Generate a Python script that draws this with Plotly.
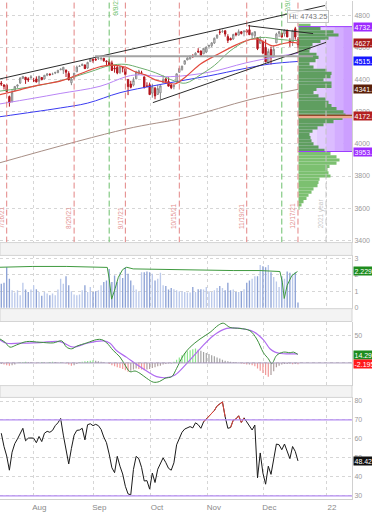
import plotly.graph_objects as go

# ---------------- data ----------------
# trading-day index: 0 = 2021-07-16 (options expiry), 108 = 2021-12-17
idx = list(range(-2, 109))

opens = [4380,4369,4367,4296,4266,4332,4361,4381,4410,4417,
         4407,4411,4395,4406,4392,4415,4406,4429,4437,4436,
         4442,4446,4464,4461,4462,4440,4382,4410,4450,4484,
         4490,4493,4474,4514,4529,4528,4534,4532,4535,4518,
         4513,4506,4474,4479,4447,4477,4470,4403,4374,4367,
         4406,4438,4443,4419,4362,4370,4317,4348,4309,4319,
         4383,4406,4390,4368,4358,4386,4447,4463,4498,4524,
         4532,4547,4553,4579,4580,4562,4573,4610,4613,4630,
         4663,4699,4701,4707,4670,4659,4655,4689,4679,4701,
         4700,4708,4713,4679,4675,4664,4628,4640,4602,4504,
         4589,4548,4631,4690,4691,4687,4711,4643,4637,4719,
         4652]
highs = [4393,4370,4375,4302,4337,4360,4370,4415,4423,4418,
         4416,4430,4413,4422,4424,4417,4430,4441,4439,4445,
         4449,4461,4468,4480,4462,4454,4418,4444,4489,4492,
         4502,4496,4513,4537,4532,4537,4545,4541,4535,4521,
         4529,4520,4492,4486,4485,4486,4471,4403,4394,4416,
         4457,4463,4457,4419,4385,4383,4376,4356,4369,4365,
         4429,4412,4416,4375,4372,4439,4476,4488,4520,4540,
         4551,4560,4572,4598,4584,4597,4608,4620,4635,4664,
         4683,4718,4714,4708,4685,4664,4688,4697,4715,4701,
         4708,4717,4743,4699,4702,4664,4673,4646,4652,4595,
         4608,4612,4694,4706,4695,4713,4711,4660,4712,4731,
         4667]
lows = [4362,4340,4323,4233,4259,4329,4350,4374,4405,4375,
        4387,4410,4386,4384,4373,4397,4404,4423,4425,4430,
        4436,4441,4460,4437,4418,4397,4367,4406,4450,4482,
        4486,4468,4469,4513,4507,4522,4524,4521,4513,4493,
        4492,4457,4445,4435,4437,4447,4427,4305,4347,4359,
        4406,4430,4436,4346,4355,4306,4289,4279,4309,4278,
        4383,4386,4360,4342,4341,4386,4447,4459,4496,4524,
        4526,4538,4545,4569,4551,4562,4567,4595,4604,4624,
        4655,4681,4694,4670,4630,4648,4650,4672,4679,4684,
        4672,4694,4680,4653,4659,4586,4626,4560,4510,4504,
        4496,4540,4631,4667,4665,4670,4667,4606,4612,4651,
        4598]
closes = [4374,4360,4327,4258,4323,4359,4368,4412,4422,4401,
          4400,4419,4395,4387,4423,4402,4429,4437,4433,4436,
          4447,4460,4468,4479,4448,4400,4405,4442,4480,4486,
          4497,4470,4509,4529,4523,4524,4537,4535,4520,4514,
          4493,4459,4469,4443,4481,4474,4433,4358,4354,4396,
          4449,4455,4443,4353,4360,4308,4357,4300,4346,4363,
          4399,4391,4361,4351,4364,4438,4471,4486,4520,4537,
          4549,4545,4567,4575,4551,4597,4605,4614,4631,4660,
          4680,4697,4702,4686,4646,4649,4683,4682,4701,4689,
          4704,4698,4682,4690,4701,4595,4655,4567,4513,4577,
          4538,4591,4686,4701,4667,4712,4668,4634,4709,4668,
          4620]

volume = [1.46,1.52,2.46,1.76,1.06,0.92,1.06,0.76,1.52,1.10,
          0.96,1.10,1.36,1.12,0.96,0.72,0.96,0.86,0.76,0.86,
          0.76,1.10,1.76,1.46,1.92,1.36,1.00,0.80,0.76,0.80,
          1.06,1.36,0.96,1.26,0.96,1.00,1.06,1.36,1.56,1.66,
          2.36,1.56,1.96,1.56,2.16,1.80,2.46,2.06,1.66,1.36,
          1.10,0.96,2.16,2.16,2.20,2.16,2.06,1.66,1.76,2.12,
          1.36,1.32,1.10,1.20,1.12,1.06,1.00,1.00,0.96,0.92,
          0.92,1.26,0.96,1.12,1.12,1.10,1.26,1.00,0.96,1.06,
          1.20,1.32,1.20,1.06,1.52,1.06,1.10,0.96,0.96,1.00,
          1.12,1.52,1.66,1.76,1.92,1.92,2.60,2.52,2.46,2.60,
          2.16,1.86,1.60,1.26,1.92,1.76,2.20,2.12,2.06,2.16,
          0.32]

vol_line_x = [-2.5, 9.7, 22.3, 34.6, 37.3, 38.0, 38.9, 40.2, 41.4, 43.0, 44.5, 46.9,
              59.3, 71.7, 84.0, 93.9, 101.3, 102.2, 102.9, 104.0, 105.7, 107.8]
vol_line_y = [2.46, 2.51, 2.51, 2.49, 2.45, 1.76, 0.52, 1.16, 1.85, 2.32, 2.46, 2.36,
              2.32, 2.30, 2.26, 2.26, 2.20, 1.55, 0.56, 1.36, 1.95, 2.20]

# moving averages (read at sample points)
ema_red_x = [-2.5, 4.9, 12.3, 19.8, 24.7, 30.9, 34.6, 38.3, 43.9, 47.6, 51.4, 55.1, 58.8,
             62.4, 66.4, 72, 79, 85.3, 89, 92.5, 95, 98.5, 102, 105.6, 108]
ema_red_y = [4308, 4338, 4369, 4392, 4420, 4462, 4482, 4492, 4480, 4451, 4431, 4400, 4385,
             4375, 4420, 4500, 4566, 4620, 4646, 4655, 4640, 4612, 4625, 4634, 4630]
sma_green_x = [-2.5, 10, 20, 30.9, 38.3, 43.9, 49.4, 55.1, 62.4, 66.4, 71.7, 77, 82.8,
               88.4, 92, 96, 100, 104, 108]
sma_green_y = [4330, 4360, 4395, 4450, 4490, 4497, 4475, 4445, 4392, 4380, 4430, 4490, 4580,
               4640, 4660, 4665, 4655, 4648, 4645]
sma_purple_x = [-2.5, 9.8, 19.8, 34.6, 43.9, 48, 60.6, 75.4, 88.4, 100, 108]
sma_purple_y = [4250, 4285, 4315, 4360, 4418, 4431, 4420, 4449, 4505, 4545, 4566]
sma_blue_x = [-2.5, 10, 20, 30, 42, 55, 66.5, 75, 88, 98, 108]
sma_blue_y = [4170, 4200, 4225, 4255, 4320, 4365, 4400, 4425, 4470, 4500, 4515]
sma_brown_x = [-2.5, 43.9, 66.5, 90.2, 108]
sma_brown_y = [3883, 4092, 4166, 4277, 4341]

# trendlines: (idx0, price0, idx1, price1)
trend_upper = (-2.5, 4406, 118.0, 4864)
trend_lower = (54.2, 4258, 118.4, 4634)
trend_desc = (89.5, 4738, 113.6, 4689)
resistance = (32.7, 4548, 113.6, 4548)

# volume profile
profile_levels = [3600,3620,3640,3660,3680,3700,3720,3740,3760,3780,
                  3800,3820,3840,3860,3880,3900,3920,3940,3960,3980,
                  4000,4020,4040,4060,4080,4100,4120,4140,4160,4180,
                  4200,4220,4240,4260,4280,4300,4320,4340,4360,4380,
                  4400,4420,4440,4460,4480,4500,4520,4540,4560,4580,
                  4600,4620,4640,4660,4680,4700,4720,4740]
profile_volume = [1,3,5,8,10,13,15,19,20,21,
                  32,30,29,31,38,41,38,32,26,20,
                  15,13,12,11,14,19,25,35,44,47,
                  45,38,33,30,27,20,15,18,33,33,
                  25,32,33,28,15,11,17,20,18,11,
                  12,14,22,30,40,35,22,12]
va_high, va_low, poc = 4732.4, 3953.0, 4172.0

macd_x = [-2.48,-0.63,1.22,3.7,7.4,12.3,17.3,20.4,22.2,24.1,26,29.7,33.4,35.2,37.1,39.5,42,
          43.9,45.7,47.6,49.4,51.9,54.4,56.6,58.7,61.2,63,65.5,68,71.7,75.4,78.5,80.3,82.8,
          86.5,90.2,92.7,95.2,97,98.3,100.1,102.6,105.1,106.3,107.9]
macd_y = [43.4,37.5,28.6,32.7,38.7,37.5,36.3,39.9,28.6,25.6,30.4,36.3,42.3,42.3,36.3,22.6,10.7,
          -4,-15.8,-14.6,-18.8,-27.7,-34.8,-33.7,-27.7,-24.7,-9.8,13.7,28.6,43.4,55.4,68.4,72,64.3,
          62.5,58.3,43.4,18.5,7.7,-1.2,13.7,19.6,18.5,19.6,15.5]
signal_x = [-2.48,0,4.9,12.3,19.8,24.7,29.7,35.8,38.3,40.8,44.5,48.2,51.9,55.6,59.3,62.4,66.7,
            71.7,76.6,81.6,86.5,91.5,95.2,97.6,99.5,102.6,107.9]
signal_y = [41.7,35.7,35.7,36.9,38.7,28.6,35.7,39.9,35.7,22,10.1,-3,-14.6,-24.7,-26.5,-21.7,-1.2,
            25.6,49.4,62.5,62.5,56.6,41.7,25.6,19.6,16.7,16.5]
macd_hist = [-2,-3,-4,-5,-4,-3,
             0.5,1,1.5,2,1.5,1,0.5,-0.5,0.5,1.5,1,
             1,1.5,2,1.5,1,1,0.5,-1,
             -3,-5,-4,-2,
             1,2,3,3.5,4,5,4,3,
             2,1,0,
             -2,-4,-6,-8,-9,-11,-13,-16,-14,
             -12,-10,-11,-12,-13,-12,-11,-9,-8,
             -6,-5,-3,-2,-1,
             -1,2,
             6,10,14,18,21,23,25,26,
             24,22,20,18,16,14,12,10,8,6,4,3,
             2,1.5,1,0.5,
             -1,-2,-3,-3,-4,
             -6,-10,-14,-18,-22,-25,-22,-15,-8,
             -5,-3,-2,-2,
             -1.5,-2.5,-2,-2.19]

rsi = [63,56,51,43.5,53,57.5,60,63,65.6,59,
       60.4,60.5,60.4,58,61.3,58.6,63,64,63.5,64.5,
       67,68.5,70.8,62,55,46.8,55,62,64.5,64.7,
       65.6,59.5,67.5,68,67,67.7,67,65,61,58,
       52,44.8,42.2,50.8,45.6,41.5,35,31,30.5,43.9,
       50.8,49.5,45,37.8,38,33.5,42,37,44,47,
       50,47.5,44.5,43.5,47.4,56.9,60,63.5,65.2,65.9,
       66.5,65.8,68.5,67.5,65.6,69,70.5,71.7,73.5,75,
       77.4,78.5,79.5,71.7,65.6,66,69.9,70.5,72.2,68.7,
       71.1,69,66.5,64.7,67.3,39.5,52.6,42,36.1,45.6,
       41.3,49.1,57.3,56.9,54.3,57.3,53.4,49.6,56,53.4,
       48.4]
rsi_red_ranges = [(73, 81), (83, 88)]

opex_idx = [0, 25, 44, 64, 89, 108]
opex_lbl = ['7/16/21', '8/20/21', '9/17/21', '10/15/21', '11/19/21', '12/17/21']
roll_idx = [38, 102]
roll_lbl = ['9/9/21', '12/9/21']
year_idx = 118.4
month_pos = [9.9, 32.1, 53.5, 74.6, 95.2, 118.4]
month_lbl = ['Aug', 'Sep', 'Oct', 'Nov', 'Dec', '22']

# ---------------- figure ----------------
FONT = 'Liberation Sans'
XR = [-2.48, 128.03]
dom_main = [0.5149, 1.0]
dom_vol = [0.3822, 0.4891]
dom_macd = [0.2277, 0.3564]
dom_rsi = [0.0, 0.2040]
GRID = '#d6d6d6'
TICKF = dict(size=7, color='#9a9a9a', family=FONT)

fig = go.Figure()

# volume profile (horizontal bars starting at the last session)
prof_colors = ['#5f9e60' if va_low <= p <= va_high else '#7cc070' for p in profile_levels]
prof_len = [v / 2.697 for v in profile_volume]
fig.add_trace(go.Bar(orientation='h', y=profile_levels, x=prof_len, base=108.2, width=20,
                     marker=dict(color=prof_colors, line=dict(width=0)),
                     xaxis='x', yaxis='y', hoverinfo='skip', showlegend=False))

# moving averages
for xs, ys, col, w in [(sma_brown_x, sma_brown_y, '#a88f86', 1),
                       (sma_blue_x, sma_blue_y, '#3a3af0', 1),
                       (sma_purple_x, sma_purple_y, '#b985f5', 1),
                       (sma_green_x, sma_green_y, '#6eae6e', 1),
                       (ema_red_x, ema_red_y, '#e34a3e', 1.2)]:
    fig.add_trace(go.Scatter(x=xs, y=ys, mode='lines', line=dict(color=col, width=w, shape='spline'),
                             xaxis='x', yaxis='y', hoverinfo='skip', showlegend=False))

fig.add_trace(go.Candlestick(x=idx, open=opens, high=highs, low=lows, close=closes,
                             increasing=dict(line=dict(color='#8a8a8a', width=1), fillcolor='#f4f4f4'),
                             decreasing=dict(line=dict(color='#b3141c', width=1), fillcolor='#b3141c'),
                             whiskerwidth=0, xaxis='x', yaxis='y', showlegend=False, hoverinfo='skip'))

# volume panel
vcol = ['#bccaeb' if c >= o else '#8ea3d6' for o, c in zip(opens, closes)]
fig.add_trace(go.Bar(x=idx, y=volume, width=0.5, marker=dict(color=vcol, line=dict(width=0)),
                     xaxis='x2', yaxis='y2', hoverinfo='skip', showlegend=False))
fig.add_trace(go.Scatter(x=vol_line_x, y=vol_line_y, mode='lines', line=dict(color='#3f9a3f', width=1),
                         xaxis='x2', yaxis='y2', hoverinfo='skip', showlegend=False))

# MACD panel
hcol = []
for k, h in enumerate(macd_hist):
    prev = macd_hist[k - 1] if k > 0 else h
    if h >= 0:
        hcol.append('#8ce68c' if h >= prev else '#a3a3a3')
    else:
        hcol.append('#f29a9a' if h < prev else '#b0a0a0')
fig.add_trace(go.Bar(x=idx, y=macd_hist, width=0.45, marker=dict(color=hcol, line=dict(width=0)),
                     xaxis='x3', yaxis='y3', hoverinfo='skip', showlegend=False))
fig.add_trace(go.Scatter(x=signal_x, y=signal_y, mode='lines', line=dict(color='#b06cf0', width=1.2, shape='spline'),
                         xaxis='x3', yaxis='y3', hoverinfo='skip', showlegend=False))
fig.add_trace(go.Scatter(x=macd_x, y=macd_y, mode='lines', line=dict(color='#3d8f3d', width=1, shape='spline'),
                         xaxis='x3', yaxis='y3', hoverinfo='skip', showlegend=False))

# RSI panel
fig.add_trace(go.Scatter(x=idx, y=rsi, mode='lines', line=dict(color='#1a1a1a', width=1),
                         xaxis='x4', yaxis='y4', hoverinfo='skip', showlegend=False))
rsi_red = [v if any(a <= i <= b for a, b in rsi_red_ranges) else None for i, v in zip(idx, rsi)]
fig.add_trace(go.Scatter(x=idx, y=rsi_red, mode='lines', line=dict(color='#e0443a', width=1),
                         xaxis='x4', yaxis='y4', hoverinfo='skip', showlegend=False, connectgaps=False))

shapes = []
# value-area background (gradient made of strips)
strip_cols = ['#f1e6ff', '#ead9ff', '#e2cbff', '#dbbcff', '#d3adff', '#cc9fff']
n = len(strip_cols)
for k, c in enumerate(strip_cols):
    x0 = 108.2 + (XR[1] - 108.2) * k / n
    x1 = 108.2 + (XR[1] - 108.2) * (k + 1) / n
    shapes.append(dict(type='rect', xref='x', yref='y', x0=x0, x1=x1, y0=va_low, y1=va_high,
                       fillcolor=c, line=dict(width=0), layer='between'))
for yv in (va_high, va_low):
    shapes.append(dict(type='line', xref='x', yref='y', x0=108.2, x1=XR[1], y0=yv, y1=yv,
                       line=dict(color='#9d3cff', width=1)))
shapes.append(dict(type='line', xref='x', yref='y', x0=108.2, x1=XR[1], y0=poc, y1=poc,
                   line=dict(color='#eda88c', width=3.5)))
shapes.append(dict(type='line', xref='x', yref='y', x0=108.2, x1=XR[1], y0=poc + 7, y1=poc + 7,
                   line=dict(color='#7a2e12', width=1)))

# vertical event lines on the price panel
for xi in opex_idx:
    shapes.append(dict(type='line', xref='x', yref='y domain', x0=xi, x1=xi, y0=0, y1=1,
                       line=dict(color='#e38585', width=1, dash='6px,3px')))
for xi in roll_idx:
    shapes.append(dict(type='line', xref='x', yref='y domain', x0=xi, x1=xi, y0=0, y1=1,
                       line=dict(color='#6cbf6c', width=1, dash='6px,3px')))
shapes.append(dict(type='line', xref='x', yref='y domain', x0=year_idx, x1=year_idx, y0=0, y1=1,
                   line=dict(color='#c4c4c4', width=1, dash='6px,3px')))

# trendlines
for (a, b, c, d), col, w in [(trend_upper, '#2b2b2b', 1), (trend_lower, '#2b2b2b', 1),
                             (trend_desc, '#2b2b2b', 1), (resistance, '#a3a3a3', 2)]:
    shapes.append(dict(type='line', xref='x', yref='y', x0=a, y0=b, x1=c, y1=d,
                       line=dict(color=col, width=w)))

# panel separators
for top, bot in [(dom_main[0], dom_vol[1]), (dom_vol[0], dom_macd[1]), (dom_macd[0], dom_rsi[1])]:
    shapes.append(dict(type='rect', xref='paper', yref='paper', x0=0, x1=1, y0=bot, y1=top,
                       fillcolor='#f3f3f3', line=dict(color='#d4d4d4', width=1), layer='above'))

# RSI guide lines & MACD zero line
for yv in (70, 30):
    shapes.append(dict(type='line', xref='x4 domain', yref='y4', x0=0, x1=1, y0=yv, y1=yv,
                       line=dict(color='#b48cf2', width=1.2)))
shapes.append(dict(type='line', xref='x3 domain', yref='y3', x0=0, x1=1, y0=0, y1=0,
                   line=dict(color='#a99bbd', width=1)))

annotations = []
for xi, t in zip(opex_idx, opex_lbl):
    annotations.append(dict(x=xi, y=3458, xref='x', yref='y', text=t, textangle=-90, showarrow=False,
                            xanchor='right', yanchor='bottom', xshift=0.5,
                            font=dict(size=6.5, color='#e39090', family=FONT)))
for xi, t in zip(roll_idx, roll_lbl):
    annotations.append(dict(x=xi, y=4790, xref='x', yref='y', text=t, textangle=-90, showarrow=False,
                            xanchor='left', yanchor='bottom', xshift=0.5,
                            font=dict(size=6.5, color='#6cbf6c', family=FONT)))
annotations.append(dict(x=year_idx, y=3458, xref='x', yref='y', text='2021 year', textangle=-90,
                        showarrow=False, xanchor='right', yanchor='bottom', xshift=0.5,
                        font=dict(size=6.5, color='#c8c8c8', family=FONT)))
annotations.append(dict(x=111.7, y=4797, xref='x', yref='y', text='Hi: 4743.25', showarrow=False,
                        font=dict(size=7.5, color='#777777', family=FONT), bgcolor='rgba(255,255,255,0.85)',
                        bordercolor='#c4c4c4', borderwidth=1, borderpad=1))


def side_label(yref, val, text, color):
    return dict(xref='paper', x=1, xanchor='left', xshift=1, yref=yref, y=val, yanchor='middle',
                text=text, showarrow=False, bgcolor=color, borderpad=0.5,
                font=dict(size=7, color='white', family=FONT))


for val, txt, col in [(4732.4, '4732.49', '#9d2bff'), (4627.2, '4627.25', '#a81c1c'),
                      (4515.5, '4515.51', '#1616ff'), (4341.0, '4341.04', '#5b1f08'),
                      (4172.0, '4172.00', '#b32020'), (3953.0, '3953.00', '#9d2bff')]:
    annotations.append(side_label('y', val, txt, col))
annotations.append(side_label('y2', 2.23, '2.2295', '#1e8c1e'))
annotations.append(side_label('y3', 14.29, '14.2953', '#1e8c1e'))
annotations.append(side_label('y3', -2.19, '-2.1953', '#ff1a1a'))
annotations.append(side_label('y4', 48.42, '48.4213', '#111111'))

xcommon = dict(range=XR, showgrid=True, gridcolor=GRID, griddash='dot', gridwidth=1,
               tickvals=month_pos, ticktext=month_lbl, zeroline=False, ticks='')

fig.update_layout(
    width=372, height=512, margin=dict(l=0, r=20, t=0, b=7),
    paper_bgcolor='white', plot_bgcolor='white', showlegend=False, barmode='overlay',
    font=dict(family=FONT),
    xaxis=dict(domain=[0, 1], anchor='y', showticklabels=False, rangeslider=dict(visible=False),
               showline=False, **xcommon),
    xaxis2=dict(domain=[0, 1], anchor='y2', matches='x', showticklabels=False, showline=False, **xcommon),
    xaxis3=dict(domain=[0, 1], anchor='y3', matches='x', showticklabels=False, showline=False, **xcommon),
    xaxis4=dict(domain=[0, 1], anchor='y4', matches='x', showticklabels=True,
                tickfont=dict(size=8, color='#8a8a8a', family=FONT),
                ticklabelshift=6, showline=True, linecolor='#d0d0d0', **xcommon),
    yaxis=dict(domain=dom_main, anchor='x', side='right', range=[3384.6, 4892.3],
               tickvals=[3400, 3600, 3800, 4000, 4200, 4400, 4600, 4800],
               showgrid=True, gridcolor=GRID, griddash='dot', zeroline=False, tickfont=TICKF,
               showline=True, linecolor='#d0d0d0', ticks=''),
    yaxis2=dict(domain=dom_vol, anchor='x2', side='right', range=[-0.06, 3.18], tickvals=[0, 1, 2, 3],
                showgrid=True, gridcolor=GRID, griddash='dot', zeroline=False, tickfont=TICKF,
                showline=True, linecolor='#d0d0d0', ticks=''),
    yaxis3=dict(domain=dom_macd, anchor='x3', side='right', range=[-41, 75], tickvals=[0, 50],
                showgrid=True, gridcolor=GRID, griddash='dot', zeroline=False, tickfont=TICKF,
                showline=True, linecolor='#d0d0d0', ticks=''),
    yaxis4=dict(domain=dom_rsi, anchor='x4', side='right', range=[28.3, 81.9],
                tickvals=[30, 40, 50, 60, 70, 80], showgrid=True, gridcolor=GRID, griddash='dot',
                zeroline=False, tickfont=TICKF, showline=True, linecolor='#d0d0d0', ticks=''),
    shapes=shapes, annotations=annotations,
)

fig.write_html('out.html', config={'displayModeBar': False, 'staticPlot': True},
               post_script="document.body.style.margin='0px';document.body.style.padding='0px';"
                           "document.body.style.overflow='hidden';")
